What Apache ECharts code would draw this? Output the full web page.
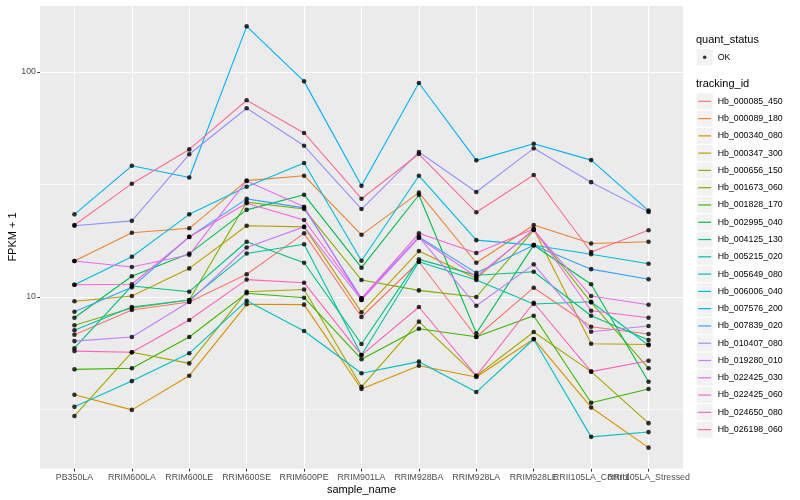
<!DOCTYPE html>
<html><head><meta charset="utf-8">
<script src="https://cdn.jsdelivr.net/npm/echarts@6/dist/echarts.min.js"></script>
<style>html,body{margin:0;padding:0;background:#fff}#c{width:800px;height:500px}</style>
</head><body><div id="c"></div>
<script>
const categories = ['PB350LA','RRIM600LA','RRIM600LE','RRIM600SE','RRIM600PE','RRIM901LA','RRIM928BA','RRIM928LA','RRIM928LE','RRII105LA_Control','RRII105LA_Stressed'];
const trackingIds = ['Hb_000085_450','Hb_000089_180','Hb_000340_080','Hb_000347_300','Hb_000656_150','Hb_001673_060','Hb_001828_170','Hb_002995_040','Hb_004125_130','Hb_005215_020','Hb_005649_080','Hb_006006_040','Hb_007576_200','Hb_007839_020','Hb_010407_080','Hb_019280_010','Hb_022425_030','Hb_022425_060','Hb_024650_080','Hb_026198_060'];
const colors = ['#F8766D','#EA8331','#D89000','#C09B00','#A3A500','#7CAE00','#39B600','#00BB4E','#00BF7D','#00C1A3','#00BFC4','#00BAE0','#00B0F6','#35A2FF','#9590FF','#C77CFF','#E76BF3','#FA62DB','#FF62BC','#FF6C91'];
const yTickValues = [10, 100];
const yMinorValues = [3.1623, 31.623];

const hb000085_450 = [6.80, 8.75, 9.50, 12.62, 19.19, 8.15, 14.35, 6.64, 11.0, 7.38, 6.85];
const hb000089_180 = [14.45, 19.31, 20.2, 32.9, 34.6, 18.9, 29.1, 14.2, 20.9, 17.3, 17.6];
const hb000340_080 = [3.68, 3.15, 4.47, 9.28, 9.25, 3.90, 4.95, 4.41, 6.51, 3.23, 2.14];
const hb000347_300 = [9.57, 10.1, 13.4, 20.75, 20.5, 8.55, 16.0, 12.1, 20.05, 6.20, 6.15];
const hb000656_150 = [2.96, 5.68, 5.07, 10.56, 10.8, 3.99, 7.77, 4.46, 6.99, 4.66, 2.75];
const hb001673_060 = [7.49, 8.93, 9.70, 26.4, 24.6, 11.9, 10.7, 10.0, 19.85, 9.47, 4.82];
const hb001828_170 = [4.77, 4.82, 6.64, 10.4, 9.93, 5.29, 7.23, 6.66, 8.26, 3.39, 3.90];
const hb002995_040 = [8.09, 12.36, 15.6, 24.4, 28.5, 13.5, 28.4, 6.90, 17.0, 11.4, 4.20];
const hb004125_130 = [5.92, 11.2, 10.56, 17.6, 14.2, 6.18, 14.7, 12.5, 12.95, 8.26, 6.44];
const hb005215_020 = [7.11, 9.03, 9.70, 15.6, 17.15, 5.52, 14.35, 11.9, 9.31, 9.53, 6.10];
const hb005649_080 = [3.25, 4.23, 5.62, 9.63, 7.06, 4.58, 5.16, 3.78, 6.49, 2.39, 2.51];
const hb006006_040 = [11.34, 15.1, 23.3, 30.9, 39.4, 14.5, 34.6, 17.9, 17.0, 15.5, 14.06];
const hb007576_200 = [23.3, 38.3, 34.0, 159.6, 90.9, 31.2, 89.4, 40.5, 48.0, 40.6, 24.2];
const hb007839_020 = [8.60, 11.04, 18.5, 27.3, 24.9, 9.87, 18.5, 12.8, 17.0, 13.3, 12.0];
const hb010407_080 = [20.75, 21.8, 43.1, 69.0, 47.0, 24.6, 44.1, 29.3, 45.8, 32.4, 23.9];
const hb019280_010 = [6.37, 6.64, 9.53, 16.6, 20.5, 9.70, 18.5, 9.15, 13.97, 7.01, 7.43];
const hb022425_030 = [14.45, 13.6, 15.4, 32.8, 25.2, 9.70, 18.3, 12.3, 19.85, 10.1, 9.24];
const hb022425_060 = [11.34, 11.4, 18.5, 26.1, 22.0, 9.87, 19.19, 15.7, 20.05, 8.69, 8.09];
const hb024650_080 = [5.75, 5.68, 7.90, 11.95, 11.58, 5.52, 9.03, 4.46, 9.43, 4.66, 5.21];
const hb026198_060 = [20.9, 31.9, 45.3, 74.9, 53.6, 27.35, 43.2, 23.8, 34.85, 15.85, 19.8];

const seriesValues = [hb000085_450, hb000089_180, hb000340_080, hb000347_300, hb000656_150, hb001673_060, hb001828_170, hb002995_040, hb004125_130, hb005215_020, hb005649_080, hb006006_040, hb007576_200, hb007839_020, hb010407_080, hb019280_010, hb022425_030, hb022425_060, hb024650_080, hb026198_060];

const FONT = 'Liberation Sans, Arial, sans-serif';
const catIdx = categories.map((c, i) => i);
const Y_MIN = 1.7236, Y_MAX = 198.2;

const lineSeries = trackingIds.map((name, k) => ({
  name: name,
  type: 'line',
  xAxisIndex: 0, yAxisIndex: 0,
  data: seriesValues[k].map((v, i) => [i, v]),
  showSymbol: false,
  symbol: 'none',
  lineStyle: { color: colors[k], width: 1.1 },
  itemStyle: { color: colors[k] },
  z: 2,
  silent: true,
  animation: false
}));

const pointData = [];
seriesValues.forEach(arr => arr.forEach((v, i) => pointData.push([i, v])));

const pointSeries = {
  name: 'OK',
  type: 'scatter',
  xAxisIndex: 0, yAxisIndex: 0,
  data: pointData,
  symbol: 'circle',
  symbolSize: 4.6,
  itemStyle: { color: '#000' },
  z: 3,
  silent: true,
  animation: false
};

const keyBoxes = [];
keyBoxes.push({ type: 'rect', shape: { x: 696.7, y: 49.2, width: 16, height: 16 }, style: { fill: '#F2F2F2' }, z: -1 });
for (let i = 0; i < trackingIds.length; i++) {
  keyBoxes.push({ type: 'rect', shape: { x: 696.7, y: 93.3 + 17.28 * i, width: 16, height: 16 }, style: { fill: '#F2F2F2' }, z: -1 });
}

const helperGrid = { left: 40, right: 117, top: 5.2, bottom: 31.2, show: false, containLabel: false, outerBoundsMode: 'none' };

const chart = echarts.init(document.getElementById('c'), null, { renderer: 'canvas' });
chart.setOption({
  animation: false,
  backgroundColor: '#FFFFFF',
  title: [
    { text: 'quant_status', left: 696, top: 34.5, padding: 0, textStyle: { fontSize: 11, fontWeight: 'normal', color: '#000', fontFamily: FONT } },
    { text: 'tracking_id', left: 696, top: 78.5, padding: 0, textStyle: { fontSize: 11, fontWeight: 'normal', color: '#000', fontFamily: FONT } }
  ],
  graphic: keyBoxes,
  legend: [
    {
      data: ['OK'],
      orient: 'vertical', left: 696.7, top: 49.2, padding: 0,
      itemWidth: 16, itemHeight: 16,
      icon: 'path://M0,0 M16,16 M6.2,8 a1.8,1.8 0 1,0 3.6,0 a1.8,1.8 0 1,0 -3.6,0 Z',
      itemStyle: { color: '#000' },
      textStyle: { fontSize: 8.8, color: '#000', fontFamily: FONT },
      selectedMode: false
    },
    {
      data: trackingIds.map((n, i) => ({ name: n, itemStyle: { color: colors[i] } })),
      orient: 'vertical', left: 696.7, top: 93.3, padding: 0,
      itemWidth: 16, itemHeight: 16, itemGap: 1.28,
      icon: 'path://M0,0 M16,16 M1.6,7.4 H14.4 V8.6 H1.6 Z',
      textStyle: { fontSize: 8.8, color: '#000', fontFamily: FONT },
      selectedMode: false
    }
  ],
  grid: [
    { left: 40, right: 117, top: 5.2, bottom: 31.2, show: true, backgroundColor: '#EBEBEB', borderWidth: 0, containLabel: false, outerBoundsMode: 'none' },
    { left: 45.74, right: 122.8, top: 5.2, bottom: 31.2, show: false, containLabel: false, outerBoundsMode: 'none' },
    helperGrid,
    Object.assign({}, helperGrid)
  ],
  xAxis: [
    {
      gridIndex: 0,
      type: 'value', min: -0.6, max: 10.6,
      axisLine: { show: false, onZero: false },
      axisTick: { show: false, customValues: catIdx },
      axisLabel: { show: false, customValues: catIdx },
      splitLine: { show: true, lineStyle: { color: '#FFFFFF', width: 1.1 } },
      name: 'sample_name', nameLocation: 'middle', nameGap: 16, nameMoveOverlap: false,
      nameTextStyle: { color: '#000', fontSize: 11, fontFamily: FONT }
    },
    {
      gridIndex: 1,
      type: 'category', data: categories, boundaryGap: true,
      axisLine: { show: false, onZero: false },
      axisTick: { show: true, alignWithLabel: true, interval: 0, length: 2.7, lineStyle: { color: '#333333', width: 1 } },
      axisLabel: { interval: 0, color: '#4D4D4D', fontSize: 8.8, margin: 4, fontFamily: FONT, hideOverlap: false },
      splitLine: { show: false }
    },
    { gridIndex: 2, type: 'value', show: false },
    { gridIndex: 3, type: 'value', show: false }
  ],
  yAxis: [
    {
      gridIndex: 0,
      type: 'log', logBase: 10, min: Y_MIN, max: Y_MAX,
      axisLine: { show: false, onZero: false },
      axisTick: { show: false },
      axisLabel: {
        color: '#4D4D4D', fontSize: 8.8, margin: 4, fontFamily: FONT,
        formatter: v => { const l = Math.log10(v); return Math.abs(l - Math.round(l)) < 1e-6 ? String(Math.round(v)) : ''; }
      },
      splitLine: { show: true, lineStyle: { color: '#FFFFFF', width: 1.1 } },
      minorSplitLine: { show: false },
      name: 'FPKM + 1', nameLocation: 'middle', nameGap: 22, nameMoveOverlap: false,
      nameTextStyle: { color: '#000', fontSize: 11, fontFamily: FONT }
    },
    { gridIndex: 1, type: 'value', show: false },
    {
      gridIndex: 2, type: 'value',
      min: Math.log10(Y_MIN), max: Math.log10(Y_MAX),
      axisLine: { show: false, onZero: false },
      axisTick: { show: true, length: 2.7, lineStyle: { color: '#333333', width: 1 }, customValues: yTickValues.map(v => Math.log10(v)) },
      axisLabel: { show: false },
      splitLine: { show: false }
    },
    {
      gridIndex: 3, type: 'value',
      min: Math.log10(Y_MIN), max: Math.log10(Y_MAX),
      axisLine: { show: false, onZero: false },
      axisTick: { show: false, customValues: yMinorValues.map(v => Math.log10(v)) },
      axisLabel: { show: false },
      splitLine: { show: true, lineStyle: { color: '#FFFFFF', width: 0.6 } }
    }
  ],
  series: lineSeries.concat([pointSeries])
});
</script></body></html>
